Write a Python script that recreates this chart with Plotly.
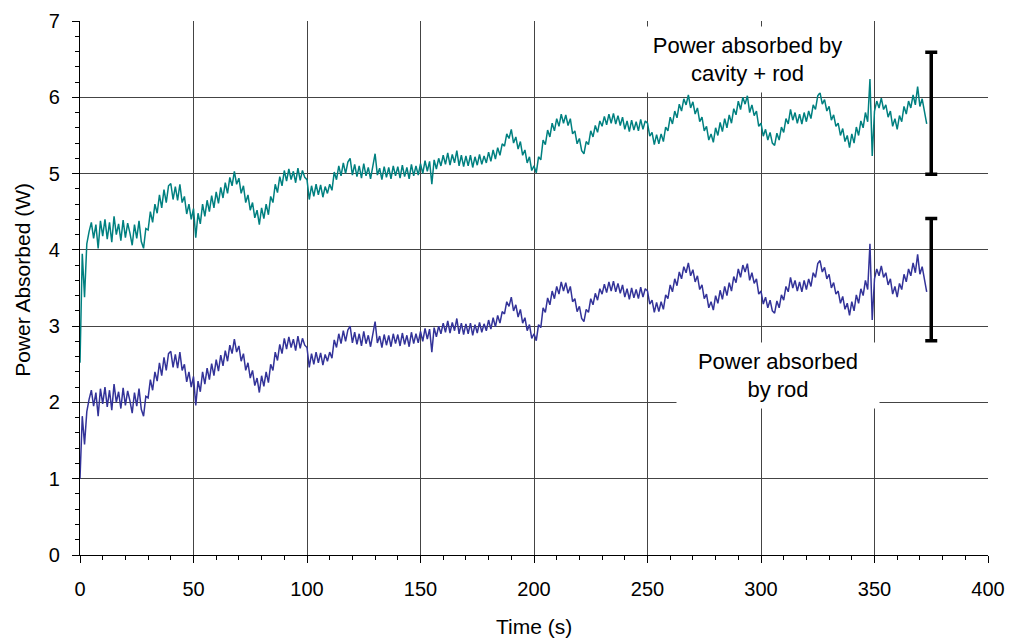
import plotly.graph_objects as go

# Sampling times (s), one reading per second
time_s = list(range(0, 374))

# Power absorbed by cavity + rod (W)
power_cavity_rod = [
    2.52, 3.95, 3.38, 4.08, 4.24, 4.36, 4.15, 4.33, 4.02, 4.38,
    4.18, 4.40, 4.14, 4.36, 4.10, 4.44, 4.20, 4.34, 4.12, 4.39,
    4.16, 4.35, 4.22, 4.06, 4.33, 4.15, 4.38, 4.11, 4.02, 4.28,
    4.26, 4.50, 4.36, 4.60, 4.48, 4.72, 4.55, 4.79, 4.62, 4.84,
    4.87, 4.66, 4.83, 4.65, 4.86, 4.62, 4.70, 4.47, 4.60, 4.40,
    4.54, 4.16, 4.48, 4.34, 4.60, 4.44, 4.65, 4.50, 4.71, 4.55,
    4.76, 4.61, 4.82, 4.68, 4.88, 4.74, 4.95, 4.84, 5.03, 4.86,
    4.94, 4.74, 4.84, 4.62, 4.72, 4.52, 4.62, 4.42, 4.52, 4.33,
    4.55, 4.41, 4.60, 4.46, 4.70, 4.62, 4.86, 4.75, 4.96, 4.84,
    5.04, 4.90, 5.06, 4.92, 5.03, 4.88, 5.07, 4.91, 5.04, 4.95,
    4.92, 4.66, 4.84, 4.70, 4.86, 4.72, 4.85, 4.69, 4.83, 4.74,
    4.86, 4.78, 5.02, 4.92, 5.10, 4.97, 5.14, 5.00, 5.15, 5.20,
    4.98, 5.12, 4.96, 5.10, 4.94, 5.13, 4.97, 5.08, 4.93, 5.11,
    5.26, 4.98, 5.07, 4.92, 5.09, 4.95, 5.08, 4.93, 5.10, 4.97,
    5.09, 4.94, 5.11, 4.96, 5.08, 4.93, 5.12, 4.97, 5.10, 4.98,
    5.13, 5.00, 5.17, 5.03, 5.16, 4.86, 5.18, 5.06, 5.20, 5.10,
    5.24, 5.12, 5.27, 5.11, 5.25, 5.14, 5.30, 5.10, 5.24, 5.09,
    5.23, 5.10, 5.24, 5.08, 5.22, 5.11, 5.25, 5.12, 5.23, 5.14,
    5.28, 5.16, 5.31, 5.19, 5.34, 5.24, 5.39, 5.36, 5.52, 5.46,
    5.58, 5.40, 5.48, 5.32, 5.42, 5.24, 5.31, 5.14, 5.22, 5.04,
    5.10, 5.01, 5.22, 5.18, 5.44, 5.38, 5.57, 5.48, 5.66, 5.56,
    5.72, 5.62, 5.78, 5.66, 5.77, 5.63, 5.72, 5.52, 5.56, 5.39,
    5.46, 5.30, 5.26, 5.42, 5.38, 5.56, 5.48, 5.63, 5.54, 5.69,
    5.62, 5.75, 5.64, 5.78, 5.66, 5.79, 5.65, 5.76, 5.63, 5.74,
    5.58, 5.69, 5.55, 5.70, 5.57, 5.68, 5.56, 5.71, 5.58, 5.69,
    5.66, 5.49, 5.54, 5.38, 5.51, 5.39, 5.52, 5.42, 5.61, 5.56,
    5.74, 5.65, 5.82, 5.73, 5.91, 5.82, 5.98, 5.90, 6.03, 5.86,
    5.94, 5.78, 5.86, 5.68, 5.74, 5.56, 5.62, 5.44, 5.52, 5.41,
    5.60, 5.50, 5.67, 5.55, 5.72, 5.60, 5.77, 5.66, 5.85, 5.77,
    5.95, 5.84, 6.00, 5.91, 6.02, 5.80, 5.90, 5.76, 5.82, 5.62,
    5.66, 5.49, 5.58, 5.44, 5.54, 5.40, 5.37, 5.53, 5.44, 5.61,
    5.54, 5.72, 5.65, 5.84, 5.70, 5.80, 5.66, 5.78, 5.65, 5.80,
    5.68, 5.82, 5.72, 5.90, 5.84, 6.02, 6.06, 5.91, 5.97, 5.82,
    5.88, 5.70, 5.77, 5.62, 5.66, 5.50, 5.59, 5.42, 5.50, 5.34,
    5.52, 5.40, 5.61, 5.50, 5.69, 5.60, 5.80, 5.68, 6.24, 5.23,
    5.82, 5.95, 5.86, 5.99, 5.84, 5.90, 5.74, 5.82, 5.62, 5.72,
    5.58, 5.76, 5.68, 5.88, 5.78, 5.95, 5.86, 6.03, 5.90, 6.14,
    5.88, 5.98, 5.80, 5.65,
]

# Power absorbed by rod (W)
power_rod = [
    1.00, 1.82, 1.45, 1.88, 2.04, 2.16, 1.95, 2.13, 1.82, 2.18,
    1.98, 2.20, 1.94, 2.16, 1.90, 2.24, 2.00, 2.14, 1.92, 2.19,
    1.96, 2.15, 2.02, 1.86, 2.13, 1.95, 2.18, 1.91, 1.82, 2.08,
    2.06, 2.30, 2.16, 2.40, 2.28, 2.52, 2.35, 2.59, 2.42, 2.64,
    2.67, 2.46, 2.63, 2.45, 2.66, 2.42, 2.50, 2.27, 2.40, 2.20,
    2.34, 1.96, 2.28, 2.14, 2.40, 2.24, 2.45, 2.30, 2.51, 2.35,
    2.56, 2.41, 2.62, 2.48, 2.68, 2.54, 2.75, 2.64, 2.83, 2.66,
    2.74, 2.54, 2.64, 2.42, 2.52, 2.32, 2.42, 2.22, 2.32, 2.13,
    2.35, 2.21, 2.40, 2.26, 2.50, 2.42, 2.66, 2.55, 2.76, 2.64,
    2.84, 2.70, 2.86, 2.72, 2.83, 2.68, 2.87, 2.71, 2.84, 2.75,
    2.72, 2.46, 2.64, 2.50, 2.66, 2.52, 2.65, 2.49, 2.63, 2.54,
    2.66, 2.58, 2.82, 2.72, 2.90, 2.77, 2.94, 2.80, 2.95, 3.00,
    2.78, 2.92, 2.76, 2.90, 2.74, 2.93, 2.77, 2.88, 2.73, 2.91,
    3.06, 2.78, 2.87, 2.72, 2.89, 2.75, 2.88, 2.73, 2.90, 2.77,
    2.89, 2.74, 2.91, 2.76, 2.88, 2.73, 2.92, 2.77, 2.90, 2.78,
    2.93, 2.80, 2.97, 2.83, 2.96, 2.66, 2.98, 2.86, 3.00, 2.90,
    3.04, 2.92, 3.07, 2.91, 3.05, 2.94, 3.10, 2.90, 3.04, 2.89,
    3.03, 2.90, 3.04, 2.88, 3.02, 2.91, 3.05, 2.92, 3.03, 2.94,
    3.08, 2.96, 3.11, 2.99, 3.14, 3.04, 3.19, 3.16, 3.32, 3.26,
    3.38, 3.20, 3.28, 3.12, 3.22, 3.04, 3.11, 2.94, 3.02, 2.84,
    2.90, 2.81, 3.02, 2.98, 3.24, 3.18, 3.37, 3.28, 3.46, 3.36,
    3.52, 3.42, 3.58, 3.46, 3.57, 3.43, 3.52, 3.32, 3.36, 3.19,
    3.26, 3.10, 3.06, 3.22, 3.18, 3.36, 3.28, 3.43, 3.34, 3.49,
    3.42, 3.55, 3.44, 3.58, 3.46, 3.59, 3.45, 3.56, 3.43, 3.54,
    3.38, 3.49, 3.35, 3.50, 3.37, 3.48, 3.36, 3.51, 3.38, 3.49,
    3.46, 3.29, 3.34, 3.18, 3.31, 3.19, 3.32, 3.22, 3.41, 3.36,
    3.54, 3.45, 3.62, 3.53, 3.71, 3.62, 3.78, 3.70, 3.83, 3.66,
    3.74, 3.58, 3.66, 3.48, 3.54, 3.36, 3.42, 3.24, 3.32, 3.21,
    3.40, 3.30, 3.47, 3.35, 3.52, 3.40, 3.57, 3.46, 3.65, 3.57,
    3.75, 3.64, 3.80, 3.71, 3.82, 3.60, 3.70, 3.56, 3.62, 3.42,
    3.46, 3.29, 3.38, 3.24, 3.34, 3.20, 3.17, 3.33, 3.24, 3.41,
    3.34, 3.52, 3.45, 3.64, 3.50, 3.60, 3.46, 3.58, 3.45, 3.60,
    3.48, 3.62, 3.52, 3.70, 3.64, 3.82, 3.86, 3.71, 3.77, 3.62,
    3.68, 3.50, 3.57, 3.42, 3.46, 3.30, 3.39, 3.22, 3.30, 3.14,
    3.32, 3.20, 3.41, 3.30, 3.49, 3.40, 3.60, 3.48, 4.08, 3.08,
    3.62, 3.75, 3.66, 3.79, 3.64, 3.70, 3.54, 3.62, 3.42, 3.52,
    3.38, 3.56, 3.48, 3.68, 3.58, 3.75, 3.66, 3.83, 3.70, 3.94,
    3.68, 3.78, 3.60, 3.45,
]

# Uncertainty bars drawn at the end of the run
bar_time = [375, 375]
bar_center = [5.79, 3.61]
bar_half_range = [0.80, 0.80]

FONT = "Liberation Sans, Arial, sans-serif"

fig = go.Figure()

fig.add_trace(go.Scatter(
    x=time_s, y=power_cavity_rod, mode="lines",
    line=dict(color="#008080", width=1.5), showlegend=False,
))
fig.add_trace(go.Scatter(
    x=time_s, y=power_rod, mode="lines",
    line=dict(color="#333399", width=1.5), showlegend=False,
))
fig.add_trace(go.Scatter(
    x=bar_time, y=bar_center, mode="markers",
    marker=dict(size=1, opacity=0),
    error_y=dict(type="data", array=bar_half_range, color="black",
                 thickness=3.5, width=6),
    showlegend=False, hoverinfo="skip",
))

# Series labels on white boxes that blank out the grid behind them
fig.add_annotation(
    x=293.9, y=6.50, xref="x", yref="y",
    text="Power absorbed by<br>cavity + rod",
    showarrow=False, xanchor="center", yanchor="middle",
    width=213, height=65, bgcolor="white", borderpad=0,
    font=dict(family=FONT, size=22, color="black"),
)
fig.add_annotation(
    x=307.4, y=2.35, xref="x", yref="y",
    text="Power absorbed<br>by rod",
    showarrow=False, xanchor="center", yanchor="middle",
    width=202, height=65, bgcolor="white", borderpad=0,
    font=dict(family=FONT, size=22, color="black"),
)

# Axis titles
fig.add_annotation(
    x=0.5, y=-0.133, xref="paper", yref="paper",
    text="Time (s)", showarrow=False,
    xanchor="center", yanchor="middle",
    font=dict(family=FONT, size=21, color="black"),
)
fig.add_annotation(
    x=-0.063, y=0.515, xref="paper", yref="paper",
    text="Power Absorbed (W)", showarrow=False, textangle=-90,
    xanchor="center", yanchor="middle",
    font=dict(family=FONT, size=21, color="black"),
)

fig.update_layout(
    width=1012, height=639,
    margin=dict(l=80, r=24, t=21, b=84),
    paper_bgcolor="white", plot_bgcolor="white",
    font=dict(family=FONT, size=20, color="black"),
)

fig.update_xaxes(
    range=[0, 400], dtick=50, tick0=0, automargin=False,
    ticks="outside", ticklen=7, tickwidth=1, tickcolor="black",
    minor=dict(dtick=10, ticks="outside", ticklen=4, tickcolor="black", showgrid=False),
    showgrid=True, gridcolor="#444444", gridwidth=1,
    showline=True, linecolor="black", linewidth=1.2,
    zeroline=False, ticklabelstandoff=9,
    tickfont=dict(family=FONT, size=20),
)
fig.update_yaxes(
    range=[0, 7], dtick=1, tick0=0, automargin=False,
    ticks="outside", ticklen=7, tickwidth=1, tickcolor="black",
    minor=dict(dtick=0.2, ticks="outside", ticklen=4, tickcolor="black", showgrid=False),
    showgrid=True, gridcolor="#444444", gridwidth=1,
    showline=True, linecolor="black", linewidth=1.2,
    zeroline=False, ticklabelstandoff=8,
    tickfont=dict(family=FONT, size=20),
)

fig.write_html("out.html")
